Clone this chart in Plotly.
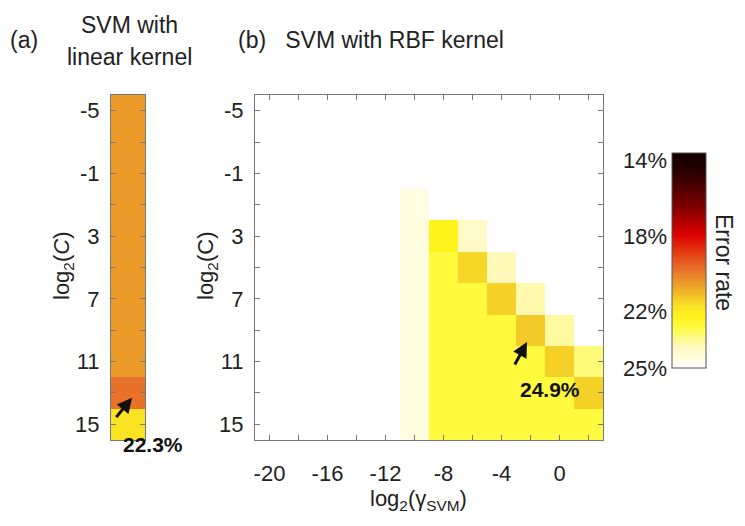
import plotly.graph_objects as go

# grid values
log2_C = [-5, -3, -1, 1, 3, 5, 7, 9, 11, 13, 15]
log2_gamma = [-20, -18, -16, -14, -12, -10, -8, -6, -4, -2, 0, 2]

# error rate (%) of the linear SVM, one per C
linear_err = [20.5, 20.5, 20.5, 20.5, 20.5, 20.5, 20.5, 20.5, 20.5, 19.8, 21.8]

# error rate (%) of the RBF SVM, rows = C, cols = gamma (None = off scale / white)
N = None
rbf_err = [
    [N, N, N, N, N, N,    N,    N,    N,    N,    N,    N],
    [N, N, N, N, N, N,    N,    N,    N,    N,    N,    N],
    [N, N, N, N, N, N,    N,    N,    N,    N,    N,    N],
    [N, N, N, N, N, 24.5, N,    N,    N,    N,    N,    N],
    [N, N, N, N, N, 24.5, 22.3, 24.0, N,    N,    N,    N],
    [N, N, N, N, N, 24.5, 22.8, 21.5, 23.8, N,    N,    N],
    [N, N, N, N, N, 24.5, 22.8, 22.8, 21.4, 23.7, N,    N],
    [N, N, N, N, N, 24.5, 22.8, 22.8, 22.8, 21.3, 23.6, N],
    [N, N, N, N, N, 24.5, 22.8, 22.8, 22.8, 22.8, 21.4, 23.3],
    [N, N, N, N, N, 24.5, 22.8, 22.8, 22.8, 22.8, 22.8, 21.4],
    [N, N, N, N, N, 24.5, 22.8, 22.8, 22.8, 22.8, 22.8, 22.8],
]

cbar_ticks = [14, 18, 22, 25]
cbar_text = ["14%", "18%", "22%", "25%"]

# labelled ticks (every other grid value), written with a plain hyphen
c_ticks = log2_C[::2]
g_ticks = log2_gamma[::2]

# page body has an 8px margin, so the figure is drawn 8px smaller and offset
OFF = 8
W, H = 745 - OFF, 526 - OFF
FONT = "Arial, Liberation Sans, sans-serif"
TXT = "#222222"
AX = "#777777"


def px(x):
    return (x - OFF) / W


def py(y):
    return 1 - (y - OFF) / H


# colours run from white (25%) to black (13.6%); use negative error so low error is on top
scale = [
    [0.0, "#FFFFFF"], [0.05, "#FFFDDA"], [0.10, "#FFF9C0"], [0.19, "#FFFA40"],
    [0.24, "#FFF21A"], [0.30, "#F8DC28"], [0.35, "#F0B828"], [0.40, "#EA962A"],
    [0.46, "#E8702A"], [0.54, "#E43A10"], [0.62, "#DD0000"], [0.75, "#800000"],
    [0.90, "#300000"], [1.0, "#120000"],
]

fig = go.Figure()

fig.add_trace(go.Heatmap(
    x=[0], y=log2_C, z=[[-e] for e in linear_err],
    coloraxis="coloraxis", xaxis="x", yaxis="y",
))
fig.add_trace(go.Heatmap(
    x=log2_gamma, y=log2_C,
    z=[[None if v is None else -v for v in row] for row in rbf_err],
    coloraxis="coloraxis", xaxis="x2", yaxis="y2",
))

top, bot = 95, 440
ydom = [py(bot), py(top)]
tickfont = dict(family=FONT, size=22, color=TXT)

frame = dict(showline=True, linecolor=AX, linewidth=1, mirror="ticks",
             ticks="inside", tickcolor=AX, ticklen=5, showgrid=False, zeroline=False)

yticks = dict(tickmode="array", tickvals=c_ticks, ticktext=[str(v) for v in c_ticks],
              tickfont=tickfont, ticklabelstandoff=6, range=[16, -6], domain=ydom,
              minor=dict(tick0=-5, dtick=2, ticks="inside", ticklen=5, tickcolor=AX))

fig.update_layout(
    width=W, height=H,
    margin=dict(l=0, r=0, t=0, b=0, autoexpand=False),
    paper_bgcolor="white", plot_bgcolor="white",
    showlegend=False,
    coloraxis=dict(
        colorscale=scale, cmin=-25, cmax=-13.6,
        colorbar=dict(
            x=px(672), xanchor="left", xpad=0,
            y=py((153 + 368) / 2), yanchor="middle", ypad=0,
            len=(368 - 153) / H, lenmode="fraction",
            thickness=34, thicknessmode="pixels",
            outlinewidth=1, outlinecolor="#555555",
            showticklabels=False, ticks="",
        ),
    ),
    xaxis=dict(domain=[px(111), px(145)], range=[-0.5, 0.5], showticklabels=False,
               showline=True, linecolor=AX, mirror=True, ticks="", showgrid=False,
               zeroline=False),
    yaxis=dict(**yticks, **frame),
    xaxis2=dict(domain=[px(255), px(603)], range=[-21, 3], tickmode="array",
                tickvals=g_ticks, ticktext=[str(v) for v in g_ticks],
                tickfont=tickfont, ticklabelstandoff=14, anchor="y2",
                minor=dict(tick0=-20, dtick=2, ticks="inside", ticklen=5, tickcolor=AX),
                **frame),
    yaxis2=dict(anchor="x2", **yticks, **frame),
    # axis only used to label the colour bar on its left side
    xaxis3=dict(domain=[px(672), px(706)], range=[0, 1], visible=False, anchor="y3"),
    yaxis3=dict(domain=[py(368), py(153)], range=[25, 13.6], anchor="x3", side="left",
                tickvals=cbar_ticks, ticktext=cbar_text, tickfont=tickfont,
                ticks="inside", ticklen=4, tickcolor=AX, showline=False,
                showgrid=False, zeroline=False, ticklabelstandoff=4),
)

fig.add_trace(go.Scatter(x=[], y=[], xaxis="x3", yaxis="y3", showlegend=False))

big = dict(family=FONT, size=23, color=TXT)


def label(text, x, y, font, angle=0, xanchor="center"):
    return dict(text=text, x=px(x), y=py(y), xref="paper", yref="paper",
                xanchor=xanchor, yanchor="middle", textangle=angle,
                showarrow=False, font=font)


ann = [
    label("(a)", 24, 40, big),
    label("SVM with", 129, 25, big),
    label("linear kernel", 129, 57, big),
    label("(b)   SVM with RBF kernel", 236, 40, big, xanchor="left"),
    label("log<sub>2</sub>(<i>C</i>)", 63, 266, tickfont, angle=-90),
    label("log<sub>2</sub>(C)", 207, 266, tickfont, angle=-90),
    label("log<sub>2</sub>(γ<sub>SVM</sub>)", 418, 500, tickfont),
    label("Error rate", 724, 262, big, angle=90),
]

bold = dict(family=FONT, size=21, color="#111111")
ann.append(label("<b>22.3%</b>", 153, 444, bold))
ann.append(label("<b>24.9%</b>", 550, 389, bold))
ann.append(dict(text="", x=0.12, y=13.3, xref="x", yref="y", ax=-17, ay=21,
                showarrow=True, arrowhead=2, arrowsize=1, arrowwidth=3,
                arrowcolor="#111111"))
ann.append(dict(text="", x=-2.24, y=9.75, xref="x2", yref="y2", ax=-13, ay=24,
                showarrow=True, arrowhead=2, arrowsize=1, arrowwidth=3,
                arrowcolor="#111111"))
fig.update_layout(annotations=ann)

fig.write_html("out.html")
